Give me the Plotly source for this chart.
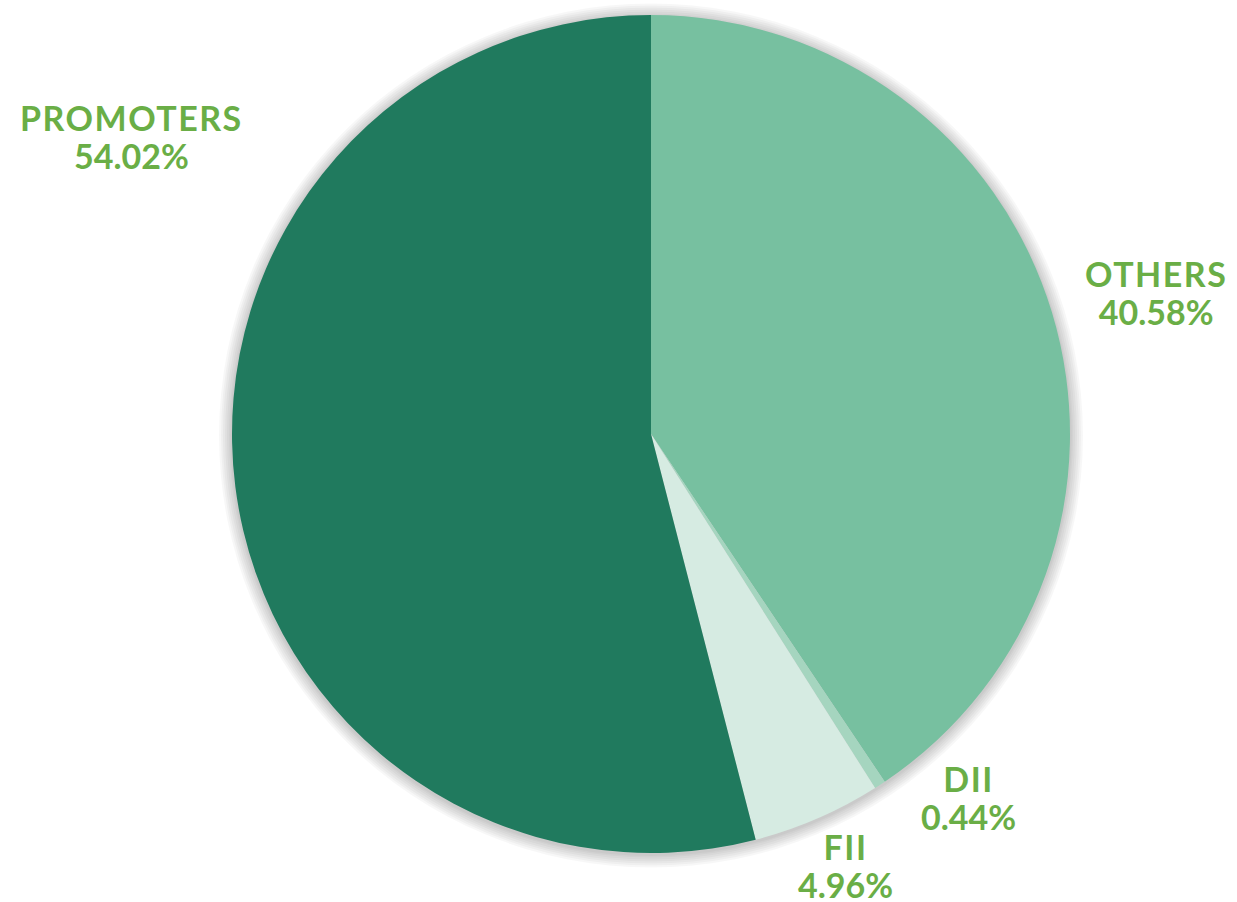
import plotly.graph_objects as go

# Shareholding pattern
categories = ["OTHERS", "DII", "FII", "PROMOTERS"]
shares = [40.58, 0.44, 4.96, 54.02]
colors = ["#77C0A0", "#A5D5BF", "#D6EBE2", "#207A5E"]

W, H = 1237, 902
cx, cy, r = 651, 434, 419  # pie centre and radius in pixels

def domain(radius, dy=0):
    x0 = (cx - radius) / W
    x1 = (cx + radius) / W
    yc = H - (cy + dy)
    return dict(x=[x0, x1], y=[(yc - radius) / H, (yc + radius) / H])

fig = go.Figure()

# soft drop shadow: stacked translucent discs
for grow in [13, 11, 9, 7, 5, 3, 1.5]:
    fig.add_trace(go.Pie(
        values=[1], marker=dict(colors=["rgba(0,0,0,0.03)"], line=dict(width=0)),
        domain=domain(r + grow, dy=1.5), textinfo="none", hoverinfo="skip",
        showlegend=False, sort=False))

fig.add_trace(go.Pie(
    labels=categories, values=shares, sort=False, direction="clockwise",
    rotation=0, marker=dict(colors=colors, line=dict(width=0)),
    domain=domain(r), textinfo="none", showlegend=False))

label_color = "#6AAE46"
# label block centre (pixels from top-left)
label_pos = {
    "PROMOTERS": (131, 137),
    "OTHERS": (1156, 292),
    "DII": (968, 797),
    "FII": (845, 865),
}
# base size sets the line spacing; the spans carry the glyph size
font = dict(family="Lato, sans-serif", size=29, color=label_color, weight="bold")
for name, val in zip(categories, shares):
    px, py = label_pos[name]
    text = (f"<span style='font-size:34px;letter-spacing:1.5px'>{name}</span><br>"
            f"<span style='font-size:34px'>{val:.2f}%</span>")
    fig.add_annotation(
        x=px / W, y=(H - py) / H, xref="paper", yref="paper",
        xanchor="center", yanchor="middle", showarrow=False,
        text=text, font=font, align="center")

fig.update_layout(
    width=W, height=H, margin=dict(l=0, r=0, t=0, b=0),
    paper_bgcolor="white", plot_bgcolor="white")

fig.write_html("out.html")
